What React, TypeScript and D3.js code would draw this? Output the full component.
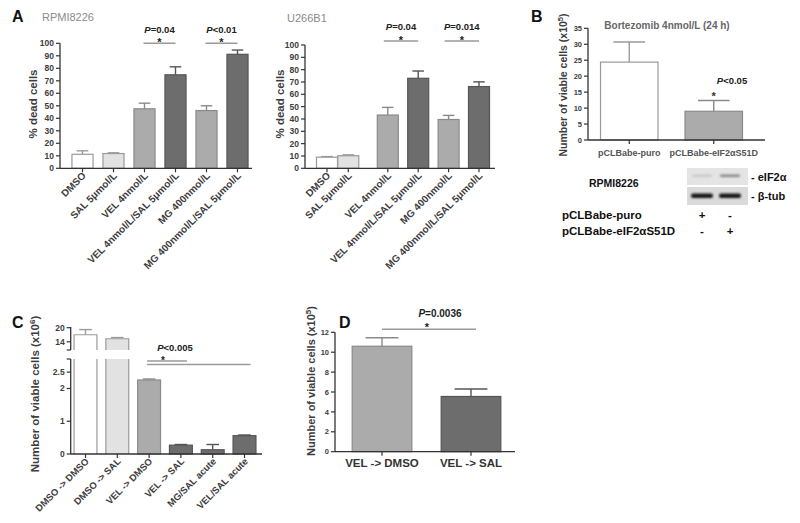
import React from "react";
import * as d3 from "d3";

const FONT = "'Liberation Sans', Arial, Helvetica, sans-serif";
const AXIS = "#333";
const TXT = "#3d3d3d";

// ---------------- Panel A data ----------------
const aCategories = [
  "DMSO",
  "SAL 5μmol/L",
  "VEL 4nmol/L",
  "VEL 4nmol/L/SAL 5μmol/L",
  "MG 400nmol/L",
  "MG 400nmol/L/SAL 5μmol/L",
];
const aTones = ["white", "light", "medium", "dark", "medium", "dark"];
const aRpmiValues = [11.2, 11.8, 47.6, 74.8, 46.2, 91.2];
const aRpmiErrors = [2.8, 0.6, 4.5, 6.4, 3.8, 3.4];
const aU266Values = [9.0, 10.2, 43.2, 73.0, 39.6, 66.3];
const aU266Errors = [0.5, 0.7, 6.2, 5.9, 3.3, 3.8];
const aU266Slots = [0, 0.7, 2, 3, 4, 5];
const aTicks = [0, 10, 20, 30, 40, 50, 60, 70, 80, 90, 100];
const aRpmiSig = [
  { from: 2, to: 3, label: "P=0.04" },
  { from: 4, to: 5, label: "P<0.01" },
];
const aU266Sig = [
  { from: 2, to: 3, label: "P=0.04" },
  { from: 4, to: 5, label: "P=0.014" },
];

// ---------------- Panel B data ----------------
const bCategories = ["pCLBabe-puro", "pCLBabe-eIF2αS51D"];
const bTones = ["white", "medium"];
const bValues = [24.4, 9.0];
const bErrors = [6.3, 3.4];
const bTicks = [0, 5, 10, 15, 20, 25, 30, 35];
const blotLanes = ["lane1", "lane2"];
const blotEif2a = [0.32, 0.55];
const blotTub = [0.92, 0.92];
const blotRowLabels = ["pCLBabe-puro", "pCLBabe-eIF2αS51D"];
const blotMarks = [
  ["+", "-"],
  ["-", "+"],
];

// ---------------- Panel C data ----------------
const cCategories = [
  "DMSO -> DMSO",
  "DMSO -> SAL",
  "VEL -> DMSO",
  "VEL -> SAL",
  "MG/SAL acute",
  "VEL/SAL acute",
];
const cTones = ["white", "light", "medium", "dark", "dark", "dark"];
const cValues = [17.0, 15.3, 2.26, 0.27, 0.13, 0.56];
const cErrors = [2.2, 0.5, 0.03, 0.02, 0.16, 0.02];
const cLowerTicks = [0, 1, 2, 2.5];
const cUpperTicks = [14, 20];

// ---------------- Panel D data ----------------
const dCategories = ["VEL -> DMSO", "VEL -> SAL"];
const dTones = ["medium", "dark"];
const dValues = [10.6, 5.55];
const dErrors = [0.85, 0.75];
const dTicks = [0, 2, 4, 6, 8, 10, 12];

const FILL: Record<string, string> = {
  white: "#ffffff",
  light: "#e2e2e2",
  medium: "#ababab",
  dark: "#6d6d6d",
};
const STROKE: Record<string, string> = {
  white: "#9a9a9a",
  light: "#9a9a9a",
  medium: "#8a8a8a",
  dark: "#555555",
};

type Lin = d3.ScaleLinear<number, number>;

function VAxis({ x, y, ticks, size = 8, y0, y1 }: { x: number; y: Lin; ticks: number[]; size?: number; y0?: number; y1?: number }) {
  const [r0, r1] = y.range();
  return (
    <g>
      <line x1={x} x2={x} y1={y0 ?? r0} y2={y1 ?? r1} stroke={AXIS} strokeWidth={1.3} />
      {ticks.map((t) => (
        <g key={t}>
          <line x1={x - 4} x2={x} y1={y(t)} y2={y(t)} stroke={AXIS} strokeWidth={1.2} />
          <text x={x - 6} y={y(t)} dy="0.35em" textAnchor="end" fontSize={size} fontWeight="bold" fill={TXT}>
            {t}
          </text>
        </g>
      ))}
    </g>
  );
}

function HAxis({ y, x0, x1, centers }: { y: number; x0: number; x1: number; centers: number[] }) {
  return (
    <g>
      <line x1={x0} x2={x1} y1={y} y2={y} stroke={AXIS} strokeWidth={1.3} />
      {centers.map((c, i) => (
        <line key={i} x1={c} x2={c} y1={y} y2={y + 4} stroke={AXIS} strokeWidth={1.2} />
      ))}
    </g>
  );
}

function Bars({ centers, width, y, values, errors, tones }: { centers: number[]; width: number; y: Lin; values: number[]; errors: number[]; tones: string[] }) {
  const base = y(0);
  const cap = width * 0.55;
  return (
    <g>
      {values.map((v, i) => {
        const c = centers[i];
        const top = y(v);
        const et = y(v + errors[i]);
        const st = STROKE[tones[i]];
        return (
          <g key={i}>
            <line x1={c} x2={c} y1={top} y2={et} stroke={st} strokeWidth={1.4} />
            <line x1={c - cap / 2} x2={c + cap / 2} y1={et} y2={et} stroke={st} strokeWidth={1.4} />
            <rect x={c - width / 2} y={top} width={width} height={base - top} fill={FILL[tones[i]]} stroke={st} strokeWidth={1.2} />
          </g>
        );
      })}
    </g>
  );
}

function RotLabels({ centers, y, labels, size = 10, color = TXT }: { centers: number[]; y: number; labels: string[]; size?: number; color?: string }) {
  return (
    <g>
      {labels.map((l, i) => (
        <text
          key={i}
          transform={`translate(${centers[i] + 4},${y + 8}) rotate(-45)`}
          textAnchor="end"
          fontSize={size}
          fontWeight="bold"
          fill={color}
        >
          {l}
        </text>
      ))}
    </g>
  );
}

function PText({ x, y, text, size = 9.5, anchor = "middle" }: { x: number; y: number; text: string; size?: number; anchor?: string }) {
  return (
    <text x={x} y={y} textAnchor={anchor as any} fontSize={size} fontWeight="bold" fill="#222">
      <tspan fontStyle="italic">{text.slice(0, 1)}</tspan>
      {text.slice(1)}
    </text>
  );
}

function Sig({ x1, x2, lineY, label, labelY }: { x1: number; x2: number; lineY: number; label: string; labelY: number }) {
  const mid = (x1 + x2) / 2;
  return (
    <g>
      <line x1={x1} x2={x2} y1={lineY} y2={lineY} stroke="#9a9a9a" strokeWidth={1.5} />
      <text x={mid} y={lineY + 2.5} textAnchor="middle" fontSize={11} fontWeight="bold" fill="#222">
        *
      </text>
      <PText x={mid} y={labelY} text={label} />
    </g>
  );
}

function YLabel({ x, y, size, children }: { x: number; y: number; size: number; children: React.ReactNode }) {
  return (
    <text transform={`translate(${x},${y}) rotate(-90)`} textAnchor="middle" dy="0.35em" fontSize={size} fontWeight="bold" fill={TXT}>
      {children}
    </text>
  );
}

export default function App() {
  // ---- Panel A left (RPMI8226)
  const xAL = d3.scaleBand<string>().domain(aCategories).range([67, 253]).paddingInner(0.32).paddingOuter(0.16);
  const cAL = aCategories.map((c) => (xAL(c) ?? 0) + xAL.bandwidth() / 2);
  const yAL = d3.scaleLinear().domain([0, 100]).range([168.3, 43.3]);
  // ---- Panel A right (U266B1)
  const xAR = d3.scaleLinear().domain([0, 5]).range([327, 479]);
  const cAR = aU266Slots.map((s) => xAR(s));
  const yAR = d3.scaleLinear().domain([0, 100]).range([168.3, 45]);
  // ---- Panel B
  const xB = d3.scaleBand<string>().domain(bCategories).range([587, 756]).paddingInner(0.32).paddingOuter(0.16);
  const cB = bCategories.map((c) => (xB(c) ?? 0) + xB.bandwidth() / 2);
  const yB = d3.scaleLinear().domain([0, 35]).range([140, 28.3]);
  const lane = d3.scalePoint<string>().domain(blotLanes).range([702, 730]);
  // ---- Panel C
  const xC = d3.scaleBand<string>().domain(cCategories).range([69.6, 260.4]).paddingInner(0.28).paddingOuter(0.14);
  const cC = cCategories.map((c) => (xC(c) ?? 0) + xC.bandwidth() / 2);
  const wC = xC.bandwidth();
  const yCL = d3.scaleLinear().domain([0, 2.9]).range([454, 359]);
  const yCU = d3.scaleLinear().domain([10.5, 20.3]).range([350, 327]);
  const cLowMax = yCL.domain()[1];
  // ---- Panel D
  const xD = d3.scaleBand<string>().domain(dCategories).range([337.5, 515.5]).paddingInner(0.33).paddingOuter(0.165);
  const cD = dCategories.map((c) => (xD(c) ?? 0) + xD.bandwidth() / 2);
  const yD = d3.scaleLinear().domain([0, 12]).range([451.7, 332.3]);

  return (
    <svg width={800} height={523} style={{ position: "absolute", left: 0, top: 0, background: "#fff" }} fontFamily={FONT}>
      <defs>
        <filter id="blur" x="-30%" y="-100%" width="160%" height="300%">
          <feGaussianBlur stdDeviation="1.1" />
        </filter>
      </defs>
      <rect x={0} y={0} width={800} height={523} fill="#fff" />

      {/* ================= Panel A ================= */}
      <text x={12} y={22} fontSize={16} fontWeight="bold" fill="#111">A</text>
      <text x={42} y={21} fontSize={11} fill="#8a8a8a">RPMI8226</text>
      <Bars centers={cAL} width={xAL.bandwidth()} y={yAL} values={aRpmiValues} errors={aRpmiErrors} tones={aTones} />
      <VAxis x={60} y={yAL} ticks={aTicks} size={8.5} />
      <HAxis y={yAL(0)} x0={60} x1={252} centers={cAL} />
      <RotLabels centers={cAL} y={yAL(0)} labels={aCategories} />
      <YLabel x={33} y={104} size={11.5}>% dead cells</YLabel>
      {aRpmiSig.map((s, i) => (
        <Sig key={i} x1={cAL[s.from] - 1} x2={cAL[s.to]} lineY={43.3} label={s.label} labelY={32.5} />
      ))}

      <text x={287} y={22} fontSize={11} fill="#8a8a8a">U266B1</text>
      <Bars centers={cAR} width={21} y={yAR} values={aU266Values} errors={aU266Errors} tones={aTones} />
      <VAxis x={305} y={yAR} ticks={aTicks} size={8.5} />
      <HAxis y={yAR(0)} x0={305} x1={495} centers={cAR} />
      <RotLabels centers={cAR} y={yAR(0)} labels={aCategories} />
      <YLabel x={280} y={104} size={11.5}>% dead cells</YLabel>
      {aU266Sig.map((s, i) => (
        <Sig key={i} x1={cAR[s.from] - 4} x2={cAR[s.to]} lineY={41} label={s.label} labelY={30} />
      ))}

      {/* ================= Panel B ================= */}
      <text x={531} y={22} fontSize={16} fontWeight="bold" fill="#111">B</text>
      <text x={667} y={29} textAnchor="middle" fontSize={10} fontWeight="bold" fill="#666">
        Bortezomib 4nmol/L (24 h)
      </text>
      <Bars centers={cB} width={xB.bandwidth()} y={yB} values={bValues} errors={bErrors} tones={bTones} />
      <VAxis x={588} y={yB} ticks={bTicks} size={7.5} />
      <HAxis y={yB(0)} x0={588} x1={765} centers={cB} />
      {bCategories.map((c, i) => (
        <text key={c} x={cB[i]} y={156} textAnchor="middle" fontSize={9} fontWeight="bold" fill="#555">
          {c}
        </text>
      ))}
      <YLabel x={563} y={85} size={10.5}>
        Number of viable cells (x10<tspan dy={-4} fontSize={7.5}>5</tspan>
        <tspan dy={4}>)</tspan>
      </YLabel>
      <text x={cB[1]} y={100} textAnchor="middle" fontSize={11} fontWeight="bold" fill="#333">*</text>
      <PText x={732} y={83.5} text="P<0.05" size={9.5} />

      {/* Western blot */}
      <text x={589} y={187} fontSize={10.5} fontWeight="bold" fill="#111">RPMI8226</text>
      <rect x={687} y={168} width={61} height={17} fill="#e4e4e4" />
      <rect x={687} y={187} width={61} height={18} fill="#dadada" />
      {blotLanes.map((l, i) => (
        <g key={l} filter="url(#blur)">
          <rect x={(lane(l) ?? 0) - 10} y={174.5} width={20} height={2.5} rx={1.2} fill={d3.interpolateGreys(blotEif2a[i])} />
          <rect x={(lane(l) ?? 0) - 11} y={193.5} width={22} height={4.5} rx={2} fill={d3.interpolateGreys(blotTub[i])} />
        </g>
      ))}
      <text x={751} y={181} fontSize={11} fontWeight="bold" fill="#111">- eIF2α</text>
      <text x={751} y={200} fontSize={11} fontWeight="bold" fill="#111">- β-tub</text>
      {blotRowLabels.map((r, ri) => (
        <g key={r}>
          <text x={562} y={219 + ri * 16} fontSize={11.5} fontWeight="bold" fill="#111">{r}</text>
          {blotMarks[ri].map((m, li) => (
            <text key={li} x={lane(blotLanes[li]) ?? 0} y={219 + ri * 16} textAnchor="middle" fontSize={11.5} fontWeight="bold" fill="#111">
              {m}
            </text>
          ))}
        </g>
      ))}

      {/* ================= Panel C ================= */}
      <text x={12} y={328} fontSize={16} fontWeight="bold" fill="#111">C</text>
      {cValues.map((v, i) => {
        const c = cC[i];
        const x0 = c - wC / 2;
        const st = STROKE[cTones[i]];
        const cap = wC * 0.55;
        if (v > cLowMax) {
          const top = yCU(v);
          const et = yCU(v + cErrors[i]);
          const lowTop = yCL(cLowMax);
          return (
            <g key={i}>
              <line x1={c} x2={c} y1={top} y2={et} stroke={st} strokeWidth={1.4} />
              <line x1={c - cap / 2} x2={c + cap / 2} y1={et} y2={et} stroke={st} strokeWidth={1.4} />
              <rect x={x0} y={lowTop} width={wC} height={yCL(0) - lowTop} fill={FILL[cTones[i]]} />
              <rect x={x0} y={top} width={wC} height={yCU.range()[0] - top} fill={FILL[cTones[i]]} />
              <path
                d={`M${x0},${yCL(0)}V${lowTop}M${x0 + wC},${lowTop}V${yCL(0)}M${x0},${yCU.range()[0]}V${top}H${x0 + wC}V${yCU.range()[0]}`}
                fill="none"
                stroke={st}
                strokeWidth={1.2}
              />
            </g>
          );
        }
        const top = yCL(v);
        const et = yCL(v + cErrors[i]);
        return (
          <g key={i}>
            <line x1={c} x2={c} y1={top} y2={et} stroke={st} strokeWidth={1.4} />
            <line x1={c - cap / 2} x2={c + cap / 2} y1={et} y2={et} stroke={st} strokeWidth={1.4} />
            <rect x={x0} y={top} width={wC} height={yCL(0) - top} fill={FILL[cTones[i]]} stroke={st} strokeWidth={1.2} />
          </g>
        );
      })}
      <VAxis x={70.7} y={yCL} ticks={cLowerTicks} size={8.5} />
      <line x1={66.7} x2={70.7} y1={yCL.range()[1]} y2={yCL.range()[1]} stroke={AXIS} strokeWidth={1.2} />
      <VAxis x={70.7} y={yCU} ticks={cUpperTicks} size={8.5} />
      <line x1={66.7} x2={70.7} y1={yCU.range()[0]} y2={yCU.range()[0]} stroke={AXIS} strokeWidth={1.2} />
      <HAxis y={yCL(0)} x0={70.7} x1={262} centers={cC} />
      <RotLabels centers={cC} y={yCL(0)} labels={cCategories} size={9.5} />
      <YLabel x={35} y={394} size={11.5}>
        Number of viable cells (x10<tspan dy={-4} fontSize={8}>6</tspan>
        <tspan dy={4}>)</tspan>
      </YLabel>
      <line x1={cC[2] - 2} x2={cC[3] + 6} y1={361} y2={361} stroke="#9a9a9a" strokeWidth={1.5} />
      <line x1={cC[2] - 2} x2={cC[5] + 6} y1={364.5} y2={364.5} stroke="#9a9a9a" strokeWidth={1.5} />
      <text x={163} y={364} textAnchor="middle" fontSize={10} fontWeight="bold" fill="#222">*</text>
      <PText x={175} y={351} text="P<0.005" />

      {/* ================= Panel D ================= */}
      <text x={339} y={328} fontSize={16} fontWeight="bold" fill="#111">D</text>
      <Bars centers={cD} width={xD.bandwidth()} y={yD} values={dValues} errors={dErrors} tones={dTones} />
      <VAxis x={335} y={yD} ticks={dTicks} size={7.5} />
      <HAxis y={yD(0)} x0={335} x1={515} centers={cD} />
      {dCategories.map((c, i) => (
        <text key={c} x={cD[i]} y={467} textAnchor="middle" fontSize={11.5} fontWeight="bold" fill="#333">
          {c}
        </text>
      ))}
      <YLabel x={311} y={381} size={11}>
        Number of viable cells (x10<tspan dy={-4} fontSize={8}>5</tspan>
        <tspan dy={4}>)</tspan>
      </YLabel>
      <line x1={cD[0]} x2={cD[1] + 5} y1={329.3} y2={329.3} stroke="#9a9a9a" strokeWidth={1.5} />
      <text x={427} y={331} textAnchor="middle" fontSize={11} fontWeight="bold" fill="#222">*</text>
      <PText x={440} y={317} text="P=0.0036" size={10} />
    </svg>
  );
}
